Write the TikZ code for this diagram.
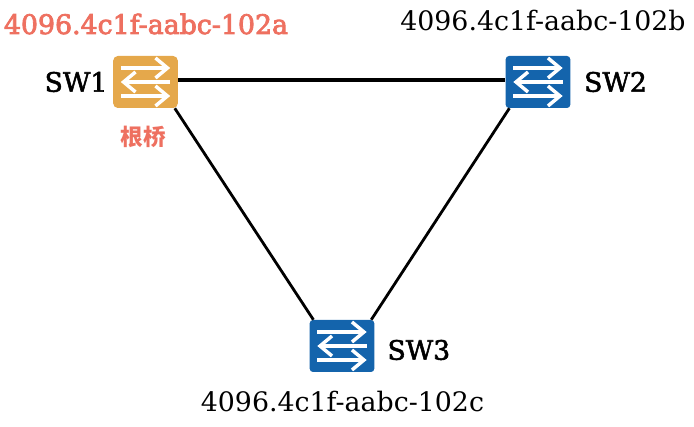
\documentclass[tikz,border=0pt]{standalone}
\usepackage{fontspec}
\setmainfont{DejaVu Serif}
\newfontfamily\cjk{Noto Sans CJK SC}
\newfontfamily\heavyserif[FakeBold=3]{DejaVu Serif}
\newfontfamily\midserif[FakeBold=2]{DejaVu Serif}
\usetikzlibrary{positioning, arrows.meta}
\definecolor{rootorange}{HTML}{E5A84B}
\definecolor{swblue}{HTML}{1464AC}
\definecolor{rootred}{HTML}{EE7060}
\tikzset{
  switchbox/.style={rectangle, rounded corners=3.5pt, fill=#1, minimum width=48.5pt, minimum height=39pt, inner sep=0pt},
  flow/.style={draw=white, line width=2.6pt, -{Straight Barb[length=9pt, width=15pt, line width=2.6pt]}},
  swname/.style={font=\fontsize{20}{24}\midserif, inner sep=0pt},
  macid/.style={font=\fontsize{20.1}{24}\selectfont, inner sep=0pt},
  link/.style={line width=2.1pt}
}
\newcommand{\swarrows}[1]{
  \draw[flow] ([xshift=-18.5pt, yshift=10.5pt]#1.center) -- ([xshift=18.5pt, yshift=10.5pt]#1.center);
  \draw[flow] ([xshift=18.5pt]#1.center) -- ([xshift=-18.5pt]#1.center);
  \draw[flow] ([xshift=-18.5pt, yshift=-10.5pt]#1.center) -- ([xshift=18.5pt, yshift=-10.5pt]#1.center);
}
\begin{document}
\begin{tikzpicture}[x=0.75pt, y=-0.75pt]
  \useasboundingbox (0,0) rectangle (694,427);
  % switches
  \node[switchbox=rootorange] (sw1) at (145.5,82) {};
  \node[switchbox=swblue, rounded corners=2.5pt] (sw2) at (538,82) {};
  \node[switchbox=swblue, rounded corners=2.5pt] (sw3) at (342,346) {};
  % links
  \draw[link, line width=2.5pt] ([yshift=1.5pt]sw1.east) -- ([yshift=1.5pt]sw2.west);
  \draw[link] ([xshift=-2.5pt]sw1.south east) -- ([xshift=3pt]sw3.north west);
  \draw[link] ([xshift=3pt]sw2.south west) -- ([xshift=-2.5pt]sw3.north east);
  \swarrows{sw1}
  \swarrows{sw2}
  \swarrows{sw3}
  % names
  \node[swname, left=4pt of sw1] (name1) {SW1};
  \node[swname, right=10pt of sw2] (name2) {SW2};
  \node[swname, right=9.5pt of sw3, yshift=-3pt] (name3) {SW3};
  % bridge ids
  \node[macid, text=rootred, font=\fontsize{20.1}{24}\heavyserif] (id1) at (146,24) {4096.4c1f-aabc-102a};
  \node[macid] (id2) at (543,21) {4096.4c1f-aabc-102b};
  \node[macid] (id3) at (342.5,402) {4096.4c1f-aabc-102c};
  \node[inner sep=0pt, text=rootred, font=\fontsize{17}{19}\selectfont\cjk\bfseries] (root) at (143.5,137) {根桥};
\end{tikzpicture}
\end{document}
